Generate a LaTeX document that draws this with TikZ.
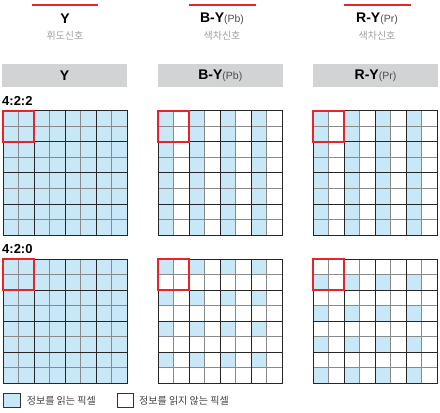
\documentclass[tikz,border=0pt]{standalone}
\usepackage{fontspec}
\setmainfont{Liberation Sans}
\newfontfamily\krfont{Noto Sans CJK KR}
\usetikzlibrary{positioning}

\definecolor{readblue}{HTML}{C8E8F8}
\definecolor{bargray}{HTML}{D1D3D4}
\definecolor{markred}{HTML}{E3262B}
\definecolor{subgray}{HTML}{A0A0A0}
\definecolor{linegray}{HTML}{8A8A8A}
\definecolor{minorgray}{HTML}{4D4D4D}

\newcommand{\cs}{15.55}
% pixel grid: origin x, origin y
\newcommand{\pixgrid}[2]{%
  \foreach \k in {1,3,5,7} {
    \draw[minorrule] (#1+\k*\cs,#2) -- ++(0,8*\cs);
    \draw[minorrule] (#1,#2+\k*\cs) -- ++(8*\cs,0);
  }
  \foreach \k in {2,4,6} {
    \draw[majorrule] (#1+\k*\cs,#2) -- ++(0,8*\cs);
    \draw[majorrule] (#1,#2+\k*\cs) -- ++(8*\cs,0);
  }
  \draw[majorrule] (#1,#2) rectangle ++(8*\cs,8*\cs);
  \draw[pairbox] (#1,#2) rectangle ++(2*\cs,2*\cs);
}
\newcommand{\minor}[1]{\textcolor{minorgray}{\mdseries\fontsize{10.5}{10.5}\selectfont(#1)}}

\begin{document}
\begin{tikzpicture}[
  x=1pt, y=-1pt,
  title/.style={font=\bfseries\fontsize{14}{14}\selectfont, inner sep=0pt},
  subtitle/.style={font=\krfont\fontsize{10}{10}\selectfont, text=subgray, inner sep=0pt},
  bar/.style={fill=bargray, minimum width=125pt, minimum height=22.7pt, inner sep=0pt, font=\bfseries\fontsize{14}{14}\selectfont},
  ratio/.style={font=\bfseries\fontsize{13}{13}\selectfont, inner sep=0pt, anchor=west},
  redrule/.style={color=markred, line width=1.1pt},
  minorrule/.style={draw=linegray, line width=1pt},
  majorrule/.style={draw=black!85, line width=1pt},
  pairbox/.style={draw=markred, line width=2pt},
  keybox/.style={draw=black!80, line width=0.9pt, minimum width=16.5pt, minimum height=14.5pt, inner sep=0pt},
  keytext/.style={font=\krfont\fontsize{10}{10}\selectfont, text=black!75, inner sep=0pt}
]
\useasboundingbox (0,0) rectangle (440,413);

% headings
\draw[redrule] (31.7,5) -- (97.7,5);
\draw[redrule] (189,5) -- (255.7,5);
\draw[redrule] (344,5) -- (410.7,5);
\node[title] (ttlY) at (65,19) {Y};
\node[title] (ttlB) at (222,19) {B-Y\minor{Pb}};
\node[title] (ttlR) at (377,19) {R-Y\minor{Pr}};
\node[subtitle] (subY) at (65,36) {휘도신호};
\node[subtitle] (subB) at (222,36) {색차신호};
\node[subtitle] (subR) at (377,36) {색차신호};

% column bars
\node[bar] (barY) at (64.5,75.3) {Y};
\node[bar] (barB) at (220.3,75.3) {B-Y\minor{Pb}};
\node[bar] (barR) at (375.5,75.3) {R-Y\minor{Pr}};

% 4:2:2
\node[ratio] (r422) at (2,100.5) {4:2:2};
\fill[readblue] (3,110.7) rectangle ++(8*\cs,8*\cs);
\foreach \c in {0,2,4,6} {
  \fill[readblue] (158+\c*\cs,110.7) rectangle ++(\cs,8*\cs);
  \fill[readblue] (313+\c*\cs,110.7) rectangle ++(\cs,8*\cs);
}
\pixgrid{3}{110.7}
\pixgrid{158}{110.7}
\pixgrid{313}{110.7}

% 4:2:0
\node[ratio] (r420) at (2,249.5) {4:2:0};
\fill[readblue] (3,259) rectangle ++(8*\cs,8*\cs);
\foreach \c in {0,2,4,6} {
  \foreach \r in {0,2,4,6} {
    \fill[readblue] (158+\c*\cs,259+\r*\cs) rectangle ++(\cs,\cs);
    \fill[readblue] (313+\c*\cs,259+\r*\cs+\cs) rectangle ++(\cs,\cs);
  }
}
\pixgrid{3}{259}
\pixgrid{158}{259}
\pixgrid{313}{259}

% legend
\node[keybox, fill=readblue] (keyRead) at (12,400.5) {};
\node[keytext, right=6pt of keyRead] (keyReadTxt) {정보를 읽는 픽셀};
\node[keybox, fill=white] (keySkip) at (125.3,400.5) {};
\node[keytext, right=5pt of keySkip] (keySkipTxt) {정보를 읽지 않는 픽셀};
\end{tikzpicture}
\end{document}
